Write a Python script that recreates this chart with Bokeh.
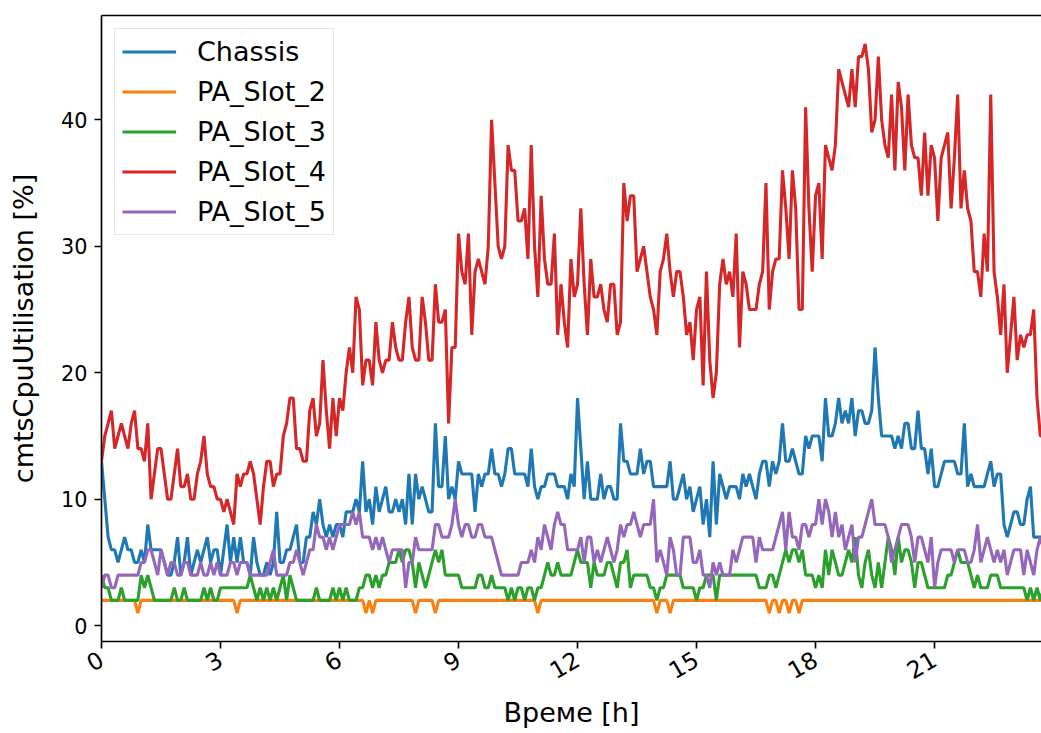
import math
from bokeh.plotting import figure
from bokeh.models import ColumnDataSource, FixedTicker, LinearAxis, Range1d
from bokeh.embed import file_html
from bokeh.resources import INLINE

# 5-minute samples over one day, in hours
hours = [i / 12 for i in range(288)]

chassis = [
    13, 10, 7, 6, 6, 5, 6, 7, 6, 6,
    5, 5, 6, 5, 8, 6, 6, 6, 6, 5,
    4, 4, 5, 7, 4, 5, 7, 4, 5, 6,
    5, 6, 7, 5, 6, 6, 4, 6, 8, 5,
    7, 5, 7, 5, 5, 4, 7, 5, 4, 4,
    5, 4, 5, 9, 5, 5, 6, 6, 7, 8,
    5, 5, 7, 7, 9, 8, 10, 8, 7, 8,
    7, 8, 8, 7, 9, 9, 9, 10, 9, 13,
    9, 10, 8, 11, 9, 10, 11, 9, 9, 10,
    9, 10, 8, 12, 8, 12, 10, 11, 10, 9,
    9, 16, 11, 11, 15, 10, 11, 10, 13, 12,
    12, 12, 12, 9, 12, 11, 12, 12, 14, 12,
    12, 11, 12, 14, 14, 12, 12, 12, 12, 11,
    14, 11, 10, 11, 11, 12, 12, 12, 11, 11,
    11, 10, 12, 11, 18, 14, 10, 13, 10, 10,
    10, 12, 10, 11, 11, 10, 10, 16, 13, 13,
    12, 12, 12, 14, 12, 13, 13, 11, 11, 11,
    11, 11, 13, 10, 10, 11, 12, 10, 11, 9,
    10, 11, 8, 10, 7, 13, 8, 12, 11, 10,
    11, 11, 11, 10, 12, 11, 12, 11, 10, 12,
    13, 13, 11, 13, 12, 13, 16, 13, 13, 14,
    13, 12, 12, 15, 14, 15, 15, 15, 13, 18,
    15, 15, 16, 18, 16, 17, 16, 18, 15, 17,
    17, 16, 16, 17, 22, 18, 15, 15, 15, 15,
    14, 15, 14, 16, 16, 14, 14, 17, 14, 14,
    12, 14, 11, 11, 12, 13, 13, 13, 13, 12,
    12, 16, 11, 12, 11, 11, 11, 11, 12, 13,
    11, 12, 12, 8, 7, 8, 9, 9, 8, 8,
    10, 11, 7, 7, 7, 7, 7, 7,
]

pa_slot_2 = [
    2, 2, 2, 2, 2, 2, 2, 2, 2, 2,
    2, 1, 2, 2, 2, 2, 2, 2, 2, 2,
    2, 2, 2, 2, 2, 2, 2, 2, 2, 2,
    2, 2, 2, 2, 2, 2, 2, 2, 2, 2,
    2, 1, 2, 2, 2, 2, 2, 2, 2, 2,
    2, 2, 2, 2, 2, 2, 2, 2, 2, 2,
    2, 2, 2, 2, 2, 2, 2, 2, 2, 2,
    2, 2, 2, 2, 2, 2, 2, 2, 2, 2,
    1, 2, 1, 2, 2, 2, 2, 2, 2, 2,
    2, 2, 2, 2, 2, 1, 2, 2, 2, 2,
    2, 1, 2, 2, 2, 2, 2, 2, 2, 2,
    2, 2, 2, 2, 2, 2, 2, 2, 2, 2,
    2, 2, 2, 2, 2, 2, 2, 2, 2, 2,
    2, 2, 1, 2, 2, 2, 2, 2, 2, 2,
    2, 2, 2, 2, 2, 2, 2, 2, 2, 2,
    2, 2, 2, 2, 2, 2, 2, 2, 2, 2,
    2, 2, 2, 2, 2, 2, 2, 2, 1, 2,
    2, 2, 1, 2, 2, 2, 2, 2, 2, 2,
    2, 2, 2, 2, 2, 2, 2, 2, 2, 2,
    2, 2, 2, 2, 2, 2, 2, 2, 2, 2,
    2, 2, 1, 2, 2, 1, 2, 2, 1, 2,
    2, 1, 2, 2, 2, 2, 2, 2, 2, 2,
    2, 2, 2, 2, 2, 2, 2, 2, 2, 2,
    2, 2, 2, 2, 2, 2, 2, 2, 2, 2,
    2, 2, 2, 2, 2, 2, 2, 2, 2, 2,
    2, 2, 2, 2, 2, 2, 2, 2, 2, 2,
    2, 2, 2, 2, 2, 2, 2, 2, 2, 2,
    2, 2, 2, 2, 2, 2, 2, 2, 2, 2,
    2, 2, 2, 2, 2, 2, 2, 2,
]

pa_slot_3 = [
    4, 3, 3, 2, 2, 2, 3, 2, 2, 2,
    2, 2, 4, 3, 4, 3, 2, 2, 2, 2,
    2, 2, 3, 2, 2, 3, 2, 2, 2, 2,
    2, 3, 2, 3, 2, 2, 3, 3, 3, 3,
    3, 3, 3, 3, 3, 4, 3, 2, 3, 2,
    3, 2, 3, 2, 3, 4, 2, 4, 3, 2,
    2, 2, 2, 2, 2, 3, 2, 2, 2, 2,
    3, 2, 3, 2, 3, 2, 2, 2, 3, 3,
    4, 4, 3, 4, 3, 4, 4, 5, 5, 5,
    6, 5, 6, 6, 5, 3, 5, 4, 3, 4,
    5, 6, 5, 6, 4, 4, 4, 4, 4, 3,
    3, 3, 3, 3, 4, 4, 3, 3, 4, 3,
    3, 3, 3, 2, 3, 2, 3, 3, 2, 3,
    3, 2, 3, 3, 4, 5, 4, 4, 5, 4,
    4, 4, 4, 5, 6, 5, 5, 5, 3, 5,
    4, 4, 4, 5, 5, 4, 3, 5, 5, 6,
    3, 4, 4, 4, 4, 4, 3, 3, 2, 3,
    3, 4, 4, 4, 4, 4, 3, 3, 3, 3,
    2, 3, 3, 4, 4, 4, 2, 4, 4, 4,
    4, 4, 4, 4, 4, 4, 4, 4, 4, 3,
    3, 3, 4, 4, 3, 4, 5, 6, 5, 6,
    6, 5, 6, 4, 4, 4, 3, 4, 3, 6,
    4, 6, 5, 4, 4, 5, 6, 5, 7, 4,
    3, 5, 6, 4, 3, 5, 3, 5, 7, 6,
    4, 7, 5, 6, 6, 5, 3, 5, 5, 4,
    3, 3, 3, 3, 3, 3, 4, 4, 5, 6,
    5, 5, 5, 4, 3, 4, 3, 3, 3, 4,
    4, 4, 3, 3, 3, 3, 3, 3, 3, 3,
    2, 3, 2, 3, 2, 3, 2, 3,
]

pa_slot_4 = [
    13, 15, 16, 17, 14, 15, 16, 15, 14, 16,
    17, 14, 14, 13, 16, 10, 12, 14, 14, 12,
    10, 10, 12, 14, 11, 11, 12, 10, 10, 12,
    13, 15, 12, 11, 11, 10, 10, 9, 10, 9,
    8, 12, 11, 12, 12, 13, 12, 10, 8, 11,
    13, 13, 11, 12, 12, 15, 16, 18, 18, 14,
    14, 13, 13, 17, 18, 15, 16, 21, 17, 14,
    18, 15, 18, 17, 20, 22, 20, 26, 25, 19,
    21, 21, 19, 24, 21, 20, 21, 21, 24, 22,
    21, 21, 24, 26, 22, 21, 21, 26, 24, 21,
    21, 27, 24, 24, 25, 16, 22, 22, 31, 28,
    27, 31, 23, 28, 29, 28, 27, 30, 40, 35,
    30, 29, 30, 38, 36, 36, 32, 32, 33, 29,
    38, 30, 26, 34, 29, 27, 27, 31, 23, 27,
    24, 22, 29, 26, 27, 33, 27, 23, 29, 26,
    26, 27, 25, 24, 27, 27, 23, 24, 35, 32,
    34, 34, 28, 29, 30, 28, 26, 25, 23, 28,
    29, 31, 28, 26, 28, 28, 26, 23, 24, 21,
    25, 26, 19, 28, 21, 18, 20, 27, 29, 27,
    28, 26, 31, 22, 28, 27, 25, 25, 25, 27,
    28, 35, 25, 28, 29, 29, 36, 33, 29, 36,
    33, 25, 25, 41, 33, 28, 34, 35, 29, 38,
    37, 36, 38, 44, 43, 42, 41, 44, 41, 45,
    45, 46, 44, 39, 40, 45, 40, 38, 37, 42,
    36, 43, 41, 36, 42, 38, 37, 37, 34, 39,
    34, 38, 37, 32, 37, 38, 39, 33, 37, 42,
    33, 36, 33, 32, 28, 28, 26, 31, 28, 42,
    28, 26, 23, 27, 20, 23, 26, 21, 23, 22,
    23, 23, 25, 18, 15, 15, 16, 17,
]

pa_slot_5 = [
    3, 4, 4, 3, 3, 4, 4, 4, 4, 4,
    4, 4, 5, 5, 6, 6, 5, 4, 6, 5,
    4, 5, 5, 4, 4, 5, 5, 4, 4, 4,
    5, 4, 4, 5, 4, 5, 4, 4, 4, 5,
    5, 4, 5, 5, 5, 4, 4, 4, 4, 4,
    4, 5, 6, 4, 4, 4, 4, 5, 5, 6,
    5, 4, 5, 6, 6, 8, 7, 7, 6, 7,
    6, 7, 8, 8, 8, 8, 9, 8, 9, 7,
    7, 7, 6, 7, 6, 7, 6, 5, 6, 6,
    6, 6, 3, 5, 5, 7, 6, 6, 6, 6,
    6, 8, 8, 7, 7, 7, 8, 10, 8, 7,
    8, 8, 7, 7, 8, 8, 7, 7, 7, 6,
    5, 4, 4, 4, 4, 4, 4, 5, 5, 5,
    6, 5, 7, 6, 8, 7, 6, 8, 9, 8,
    8, 6, 6, 6, 6, 7, 5, 7, 7, 5,
    6, 5, 6, 7, 6, 5, 6, 8, 7, 8,
    8, 9, 8, 7, 8, 8, 8, 10, 5, 6,
    5, 4, 7, 6, 4, 4, 7, 7, 7, 5,
    5, 6, 4, 4, 3, 5, 4, 5, 4, 4,
    4, 6, 5, 6, 7, 7, 7, 7, 5, 7,
    6, 6, 6, 6, 7, 8, 9, 6, 9, 7,
    7, 6, 8, 8, 7, 8, 8, 10, 8, 10,
    9, 7, 9, 7, 8, 6, 7, 8, 5, 7,
    7, 8, 9, 10, 8, 8, 8, 8, 7, 5,
    6, 7, 8, 8, 8, 7, 5, 7, 7, 6,
    5, 7, 3, 5, 6, 6, 6, 6, 5, 6,
    6, 6, 5, 5, 6, 8, 5, 6, 7, 6,
    5, 6, 5, 6, 4, 5, 6, 6, 6, 4,
    6, 5, 4, 6, 7, 6, 6, 6,
]

series_names = ["Chassis", "PA_Slot_2", "PA_Slot_3", "PA_Slot_4", "PA_Slot_5"]
series_values = [chassis, pa_slot_2, pa_slot_3, pa_slot_4, pa_slot_5]
colors = ["#1f77b4", "#ff7f0e", "#2ca02c", "#d62728", "#9467bd"]

x_ticks = [0, 3, 6, 9, 12, 15, 18, 21]
y_ticks = [0, 10, 20, 30, 40]

FONT = "DejaVu Sans"
FS_TICK = "20.8px"
FS_XTICK = "23.5px"
FS_LABEL = "27px"
LW = 1.67

p = figure(
    width=1041, height=733,
    output_backend="svg", toolbar_location=None,
    x_range=Range1d(0, 23.696), y_range=Range1d(-1.25, 48.25),
    min_border_left=101, min_border_right=0, min_border_top=15, min_border_bottom=92,
)
p.outline_line_color = None
p.xgrid.visible = False
p.ygrid.visible = False
p.background_fill_color = "white"
p.border_fill_color = "white"

for name, vals, col in zip(series_names, series_values, colors):
    src = ColumnDataSource(dict(x=hours, y=vals))
    p.line("x", "y", source=src, line_color=col, line_width=3.1, legend_label=name)

for ax in (p.xaxis[0], p.yaxis[0]):
    ax.axis_line_width = LW
    ax.axis_line_color = "black"
    ax.major_tick_line_width = LW
    ax.major_tick_line_color = "black"
    ax.major_tick_in = 0
    ax.major_tick_out = 7
    ax.minor_tick_line_color = None
    ax.major_label_text_font = FONT
    ax.major_label_text_font_size = FS_TICK
    ax.major_label_text_color = "black"
    ax.major_label_standoff = 7
    ax.axis_label_text_font = FONT
    ax.axis_label_text_font_size = FS_LABEL
    ax.axis_label_text_font_style = "normal"
    ax.axis_label_text_color = "black"

p.xaxis.ticker = FixedTicker(ticks=x_ticks)
p.yaxis.ticker = FixedTicker(ticks=y_ticks)
p.xaxis.major_label_orientation = math.pi / 6
p.xaxis.major_label_text_font_size = FS_XTICK
p.xaxis.major_label_standoff = 9

p.yaxis.axis_label = "cmtsCpuUtilisation [%]"
p.yaxis.axis_label_standoff = 19
p.xaxis.axis_label = "Време [h]"
p.xaxis.axis_label_standoff = 7

top = LinearAxis(ticker=FixedTicker(ticks=[]), axis_line_width=LW, axis_line_color="black",
                 major_tick_line_color=None, minor_tick_line_color=None,
                 major_label_text_font_size="0px")
p.add_layout(top, "above")

leg = p.legend[0]
leg.location = "top_left"
leg.margin = 13
leg.padding = 7
leg.spacing = 9
leg.glyph_width = 54
leg.glyph_height = 27
leg.label_height = 27
leg.label_standoff = 21
leg.label_text_font = FONT
leg.label_text_font_size = FS_LABEL
leg.label_text_color = "black"
leg.border_line_color = "#cccccc"
leg.border_line_width = LW
leg.background_fill_alpha = 0.8

open("out.html", "w").write(file_html(p, INLINE))
